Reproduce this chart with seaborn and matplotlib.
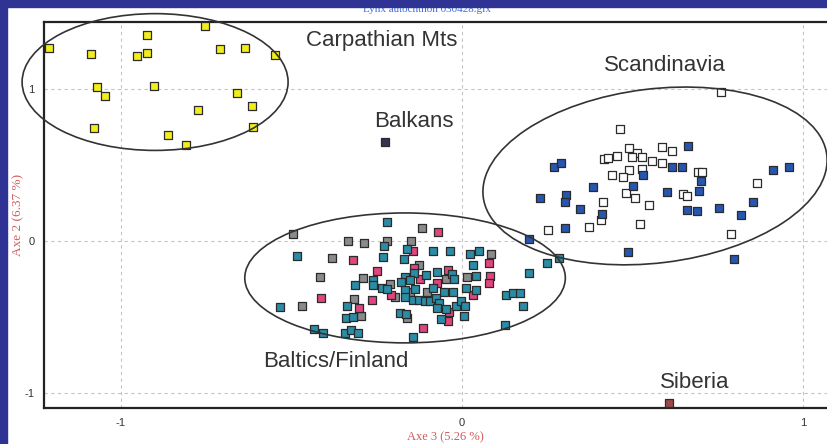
import pandas as pd
import matplotlib
matplotlib.use("Agg")
import matplotlib.pyplot as plt
import seaborn as sns
from matplotlib.patches import Ellipse, Rectangle
from matplotlib.transforms import Affine2D

# =============================
# DATA
# =============================
carp_x = [-1.211, -1.088, -0.924, -0.953, -0.924, -0.754, -0.710, -0.636, -0.548, -1.070,
          -1.047, -0.903, -0.660, -0.616, -0.774, -1.079, -0.613, -0.862, -0.809]
carp_y = [1.270, 1.230, 1.355, 1.217, 1.237, 1.414, 1.263, 1.270, 1.224, 1.013,
          0.954, 1.020, 0.974, 0.888, 0.862, 0.743, 0.750, 0.697, 0.632]

scand_white_x = [0.760, 0.463, 0.490, 0.513, 0.499, 0.528, 0.416, 0.428, 0.455, 0.587,
                 0.616, 0.557, 0.587, 0.490, 0.528, 0.440, 0.472, 0.692, 0.704, 0.865,
                 0.481, 0.507, 0.648, 0.660, 0.413, 0.548, 0.408, 0.372, 0.252, 0.522, 0.789]
scand_white_y = [0.980, 0.737, 0.612, 0.579, 0.553, 0.553, 0.539, 0.546, 0.559, 0.618,
                 0.592, 0.526, 0.513, 0.467, 0.474, 0.434, 0.421, 0.454, 0.454, 0.382,
                 0.316, 0.283, 0.309, 0.296, 0.257, 0.237, 0.138, 0.092, 0.072, 0.112, 0.046]

scand_blue_x = [0.663, 0.270, 0.290, 0.616, 0.645, 0.531, 0.912, 0.959, 0.701, 0.501,
                0.384, 0.229, 0.305, 0.302, 0.601, 0.695, 0.346, 0.411, 0.660, 0.689,
                0.754, 0.818, 0.853, 0.302, 0.196, 0.487, 0.798]
scand_blue_y = [0.625, 0.487, 0.513, 0.487, 0.487, 0.434, 0.467, 0.487, 0.395, 0.362,
                0.355, 0.283, 0.303, 0.257, 0.322, 0.329, 0.211, 0.178, 0.204, 0.197,
                0.217, 0.171, 0.257, 0.086, 0.013, -0.072, -0.118]

balt_teal_x = [-0.484, -0.534, -0.434, -0.408, -0.220, -0.229, -0.161, -0.232, -0.170, -0.261,
               -0.314, -0.337, -0.340, -0.320, -0.343, -0.326, -0.305, -0.144, -0.085, -0.035,
               0.023, -0.141, -0.106, -0.073, -0.029, -0.023, -0.167, -0.179, -0.152, -0.261,
               -0.235, -0.220, -0.167, -0.167, -0.138, -0.085, -0.053, -0.026, 0.012, -0.144,
               -0.126, -0.109, -0.094, -0.076, -0.067, -0.073, -0.047, -0.018, -0.003, 0.009,
               -0.182, -0.164, -0.062, 0.050, 0.032, 0.041, 0.041, 0.006, 0.129, 0.150,
               0.170, 0.179, 0.196, 0.249, 0.284, 0.126]
balt_teal_y = [-0.099, -0.434, -0.579, -0.605, 0.125, -0.033, -0.053, -0.105, -0.118, -0.257,
               -0.289, -0.428, -0.507, -0.500, -0.605, -0.586, -0.605, -0.632, -0.066, -0.066,
               -0.086, -0.211, -0.224, -0.204, -0.217, -0.250, -0.237, -0.270, -0.257, -0.289,
               -0.309, -0.316, -0.322, -0.368, -0.316, -0.309, -0.336, -0.336, -0.309, -0.388,
               -0.388, -0.395, -0.395, -0.375, -0.408, -0.441, -0.447, -0.428, -0.395, -0.428,
               -0.474, -0.480, -0.513, -0.066, -0.158, -0.230, -0.322, -0.493, -0.355, -0.342,
               -0.342, -0.428, -0.211, -0.145, -0.112, -0.553]

balt_pink_x = [-0.144, -0.320, -0.249, -0.413, -0.264, -0.302, -0.114, -0.070, -0.141, -0.041,
               -0.123, -0.073, -0.208, -0.038, -0.041, 0.079, 0.082, 0.079, 0.032]
balt_pink_y = [-0.066, -0.125, -0.197, -0.375, -0.388, -0.441, -0.572, 0.059, -0.178, -0.191,
               -0.250, -0.276, -0.355, -0.467, -0.526, -0.145, -0.230, -0.276, -0.355]

balt_gray_x = [-0.496, -0.381, -0.416, -0.469, -0.117, -0.334, -0.287, -0.220, -0.150, -0.290,
               -0.317, -0.296, -0.126, -0.047, -0.211, -0.196, -0.152, -0.103, -0.161, 0.085, 0.015]
balt_gray_y = [0.046, -0.112, -0.237, -0.428, 0.086, 0.000, -0.013, 0.000, 0.000, -0.243,
               -0.382, -0.493, -0.158, -0.250, -0.283, -0.368, -0.336, -0.336, -0.507, -0.086, -0.237]

balkans_x, balkans_y = [-0.226], [0.651]
siberia_x, siberia_y = [0.607], [-1.066]

region_names = ["Carpathian Mts", "Balkans", "Scandinavia", "Baltics/Finland", "Siberia"]
label_x = [-0.235, -0.141, 0.595, -0.370, 0.683]
label_y = [1.322, 0.789, 1.158, -0.796, -0.934]

palette = {
    "carp": "#f2ee1c",
    "scand_white": "#ffffff",
    "scand_blue": "#2656b0",
    "balt_gray": "#8a8a8a",
    "balt_pink": "#e0457e",
    "balt_teal": "#2a8ca5",
    "balkans": "#3c3050",
    "siberia": "#9a4a4a",
}

parts = []
for name, xs, ys in [("carp", carp_x, carp_y),
                     ("scand_white", scand_white_x, scand_white_y),
                     ("scand_blue", scand_blue_x, scand_blue_y),
                     ("balt_gray", balt_gray_x, balt_gray_y),
                     ("balt_pink", balt_pink_x, balt_pink_y),
                     ("balt_teal", balt_teal_x, balt_teal_y),
                     ("balkans", balkans_x, balkans_y),
                     ("siberia", siberia_x, siberia_y)]:
    parts.append(pd.DataFrame({"x": xs, "y": ys, "group": name}))
df = pd.concat(parts, ignore_index=True)

# =============================
# FIGURE
# =============================
sns.set_style("white")
plt.rcParams["font.family"] = ["Liberation Sans", "DejaVu Sans"]

fig = plt.figure(figsize=(8.28, 4.44), dpi=100)
ax = fig.add_axes([44 / 828, 1 - 408 / 444, 784 / 828, 386 / 444])
ax.set_xlim(-1.2258, 1.0733)
ax.set_ylim(-1.099, 1.441)

sns.scatterplot(data=df, x="x", y="y", hue="group", palette=palette, marker="s",
                s=30, edgecolor="#2b2b2b", linewidth=0.9, legend=False, ax=ax, zorder=3)

ax.set_xticks([-1, 0, 1])
ax.set_yticks([-1, 0, 1])
ax.set_xticklabels(["-1", "0", "1"])
ax.set_yticklabels(["-1", "0", "1"])
ax.tick_params(length=0, labelsize=8, labelcolor="#333333", pad=7)
ax.grid(True, linestyle=(0, (3, 3)), color="#c4c4c4", linewidth=0.8)
ax.set_axisbelow(True)
ax.set_xlabel("")
ax.set_ylabel("")
for side in ["left", "bottom", "top"]:
    ax.spines[side].set_color("#222222")
    ax.spines[side].set_linewidth(1.6)
ax.spines["right"].set_visible(False)


# ellipses, tilt given in screen degrees
def ring(cx, cy, w, h, tilt=0.0):
    p0 = ax.transData.transform((0, 0))
    p1 = ax.transData.transform((1, 1))
    sx, sy = p1 - p0
    tr = Affine2D().scale(1 / sx, 1 / sy).translate(cx, cy) + ax.transData
    e = Ellipse((0, 0), w * sx, h * sy, angle=tilt, transform=tr, fill=False,
                edgecolor="#333333", linewidth=1.2, clip_on=False, zorder=4)
    ax.add_patch(e)


ring(-0.900, 1.046, 0.78, 0.90)
ring(0.566, 0.428, 1.015, 1.145, tilt=7)
ring(-0.167, -0.243, 0.94, 0.855)

for name, lx, ly in zip(region_names, label_x, label_y):
    ax.text(lx, ly, name, ha="center", va="center", fontsize=16, color="#333333", zorder=5)

# axis titles and file name
fig.text(18 / 828, 1 - 215 / 444, "Axe 2 (6.37 %)", rotation=90, ha="center", va="center",
         color="#d35a5a", family="Liberation Serif", fontsize=9.5)
fig.text(445 / 828, 1 - 437 / 444, "Axe 3 (5.26 %)", ha="center", va="center",
         color="#d35a5a", family="Liberation Serif", fontsize=9)
fig.text(427 / 828, 1 - 12 / 444, "Lynx autochthon 030428.glx", ha="center", va="baseline",
         color="#3b6fd6", family="Liberation Serif", fontsize=8, zorder=5)

# blue slide border
blue = "#2f3494"
fig.add_artist(Rectangle((0, 1 - 7 / 444), 1, 7 / 444, transform=fig.transFigure,
                         color=blue, zorder=10))
fig.add_artist(Rectangle((0, 0), 7 / 828, 1, transform=fig.transFigure,
                         color=blue, zorder=10))

fig.savefig("out.png", dpi=100)
